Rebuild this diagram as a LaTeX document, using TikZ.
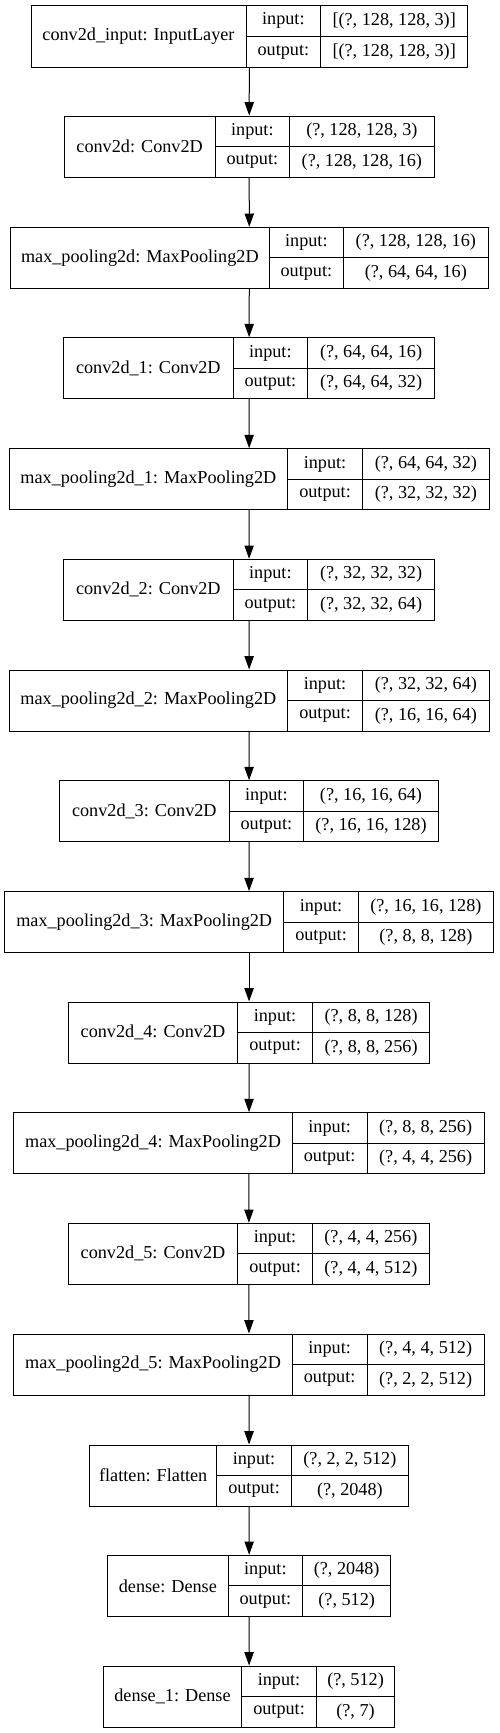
\documentclass[tikz,border=0pt]{standalone}
\usepackage{fontspec}
\setmainfont{Liberation Serif}
\usetikzlibrary{positioning,arrows.meta,fit}

% one layer record: name, left, top, height, label width, value width, label, input, output
\newcommand{\layerrow}[9]{%
  \node[cell, minimum width=#5pt, minimum height=#4pt] (#1) at (#2,#3) {#7};
  \node[cell, minimum width=74.7pt, minimum height=#4pt/2] (#1-ik) at (#1.north east) {input:};
  \node[cell, minimum width=74.7pt, minimum height=#4pt/2] (#1-ok) at (#1-ik.south west) {output:};
  \node[cell, minimum width=#6pt, minimum height=#4pt/2] (#1-iv) at (#1-ik.north east) {#8};
  \node[cell, minimum width=#6pt, minimum height=#4pt/2] (#1-ov) at (#1-iv.south west) {#9};
  \node[fit=(#1)(#1-ov), inner sep=0pt] (#1-box) {};
}

\begin{document}
\begin{tikzpicture}[x=1pt, y=-1pt, line width=1pt, >={Triangle[length=13.3pt,width=9.3pt]},
  font=\fontsize{18.2}{22}\selectfont,
  cell/.style={draw, rectangle, anchor=north west, inner sep=0pt, outer sep=0pt}]

\useasboundingbox (0,0) rectangle (499,1733);

% Layers
\layerrow{input}{31}{5}{62.5}{215}{147}{conv2d\_input: InputLayer}{[(?, 128, 128, 3)]}{[(?, 128, 128, 3)]}
\layerrow{conv0}{64.3}{116}{61}{150.7}{144.3}{conv2d: Conv2D}{(?, 128, 128, 3)}{(?, 128, 128, 16)}
\layerrow{pool0}{10.7}{227.3}{61}{258.3}{144.3}{max\_pooling2d: MaxPooling2D}{(?, 128, 128, 16)}{(?, 64, 64, 16)}
\layerrow{conv1}{63.7}{337.7}{61}{169.3}{126.7}{conv2d\_1: Conv2D}{(?, 64, 64, 16)}{(?, 64, 64, 32)}
\layerrow{pool1}{9}{448.7}{61}{278.7}{127}{max\_pooling2d\_1: MaxPooling2D}{(?, 64, 64, 32)}{(?, 32, 32, 32)}
\layerrow{conv2}{63.7}{559.3}{61}{169.3}{126.7}{conv2d\_2: Conv2D}{(?, 32, 32, 32)}{(?, 32, 32, 64)}
\layerrow{pool2}{9}{670}{61}{278.7}{127}{max\_pooling2d\_2: MaxPooling2D}{(?, 32, 32, 64)}{(?, 16, 16, 64)}
\layerrow{conv3}{59.7}{780.7}{61}{169.3}{134.6}{conv2d\_3: Conv2D}{(?, 16, 16, 64)}{(?, 16, 16, 128)}
\layerrow{pool3}{4.7}{891.7}{61}{279}{135}{max\_pooling2d\_3: MaxPooling2D}{(?, 16, 16, 128)}{(?, 8, 8, 128)}
\layerrow{conv4}{68.3}{1002}{61}{169.4}{117.4}{conv2d\_4: Conv2D}{(?, 8, 8, 128)}{(?, 8, 8, 256)}
\layerrow{pool4}{13.7}{1112.7}{61}{278.6}{117.3}{max\_pooling2d\_4: MaxPooling2D}{(?, 8, 8, 256)}{(?, 4, 4, 256)}
\layerrow{conv5}{68.3}{1223.3}{61}{169.4}{117}{conv2d\_5: Conv2D}{(?, 4, 4, 256)}{(?, 4, 4, 512)}
\layerrow{pool5}{13.7}{1334}{61}{278.6}{117.3}{max\_pooling2d\_5: MaxPooling2D}{(?, 4, 4, 512)}{(?, 2, 2, 512)}
\layerrow{flat}{89.7}{1445}{61}{127}{117}{flatten: Flatten}{(?, 2, 2, 512)}{(?, 2048)}
\layerrow{dense0}{107.7}{1555.3}{61}{120.3}{88}{dense: Dense}{(?, 2048)}{(?, 512)}
\layerrow{dense1}{103.3}{1666}{61}{138.4}{78.3}{dense\_1: Dense}{(?, 512)}{(?, 7)}

% Arrows
\draw[->] (input-box) -- (conv0-box);
\draw[->] (conv0-box) -- (pool0-box);
\draw[->] (pool0-box) -- (conv1-box);
\draw[->] (conv1-box) -- (pool1-box);
\draw[->] (pool1-box) -- (conv2-box);
\draw[->] (conv2-box) -- (pool2-box);
\draw[->] (pool2-box) -- (conv3-box);
\draw[->] (conv3-box) -- (pool3-box);
\draw[->] (pool3-box) -- (conv4-box);
\draw[->] (conv4-box) -- (pool4-box);
\draw[->] (pool4-box) -- (conv5-box);
\draw[->] (conv5-box) -- (pool5-box);
\draw[->] (pool5-box) -- (flat-box);
\draw[->] (flat-box) -- (dense0-box);
\draw[->] (dense0-box) -- (dense1-box);

\end{tikzpicture}
\end{document}
